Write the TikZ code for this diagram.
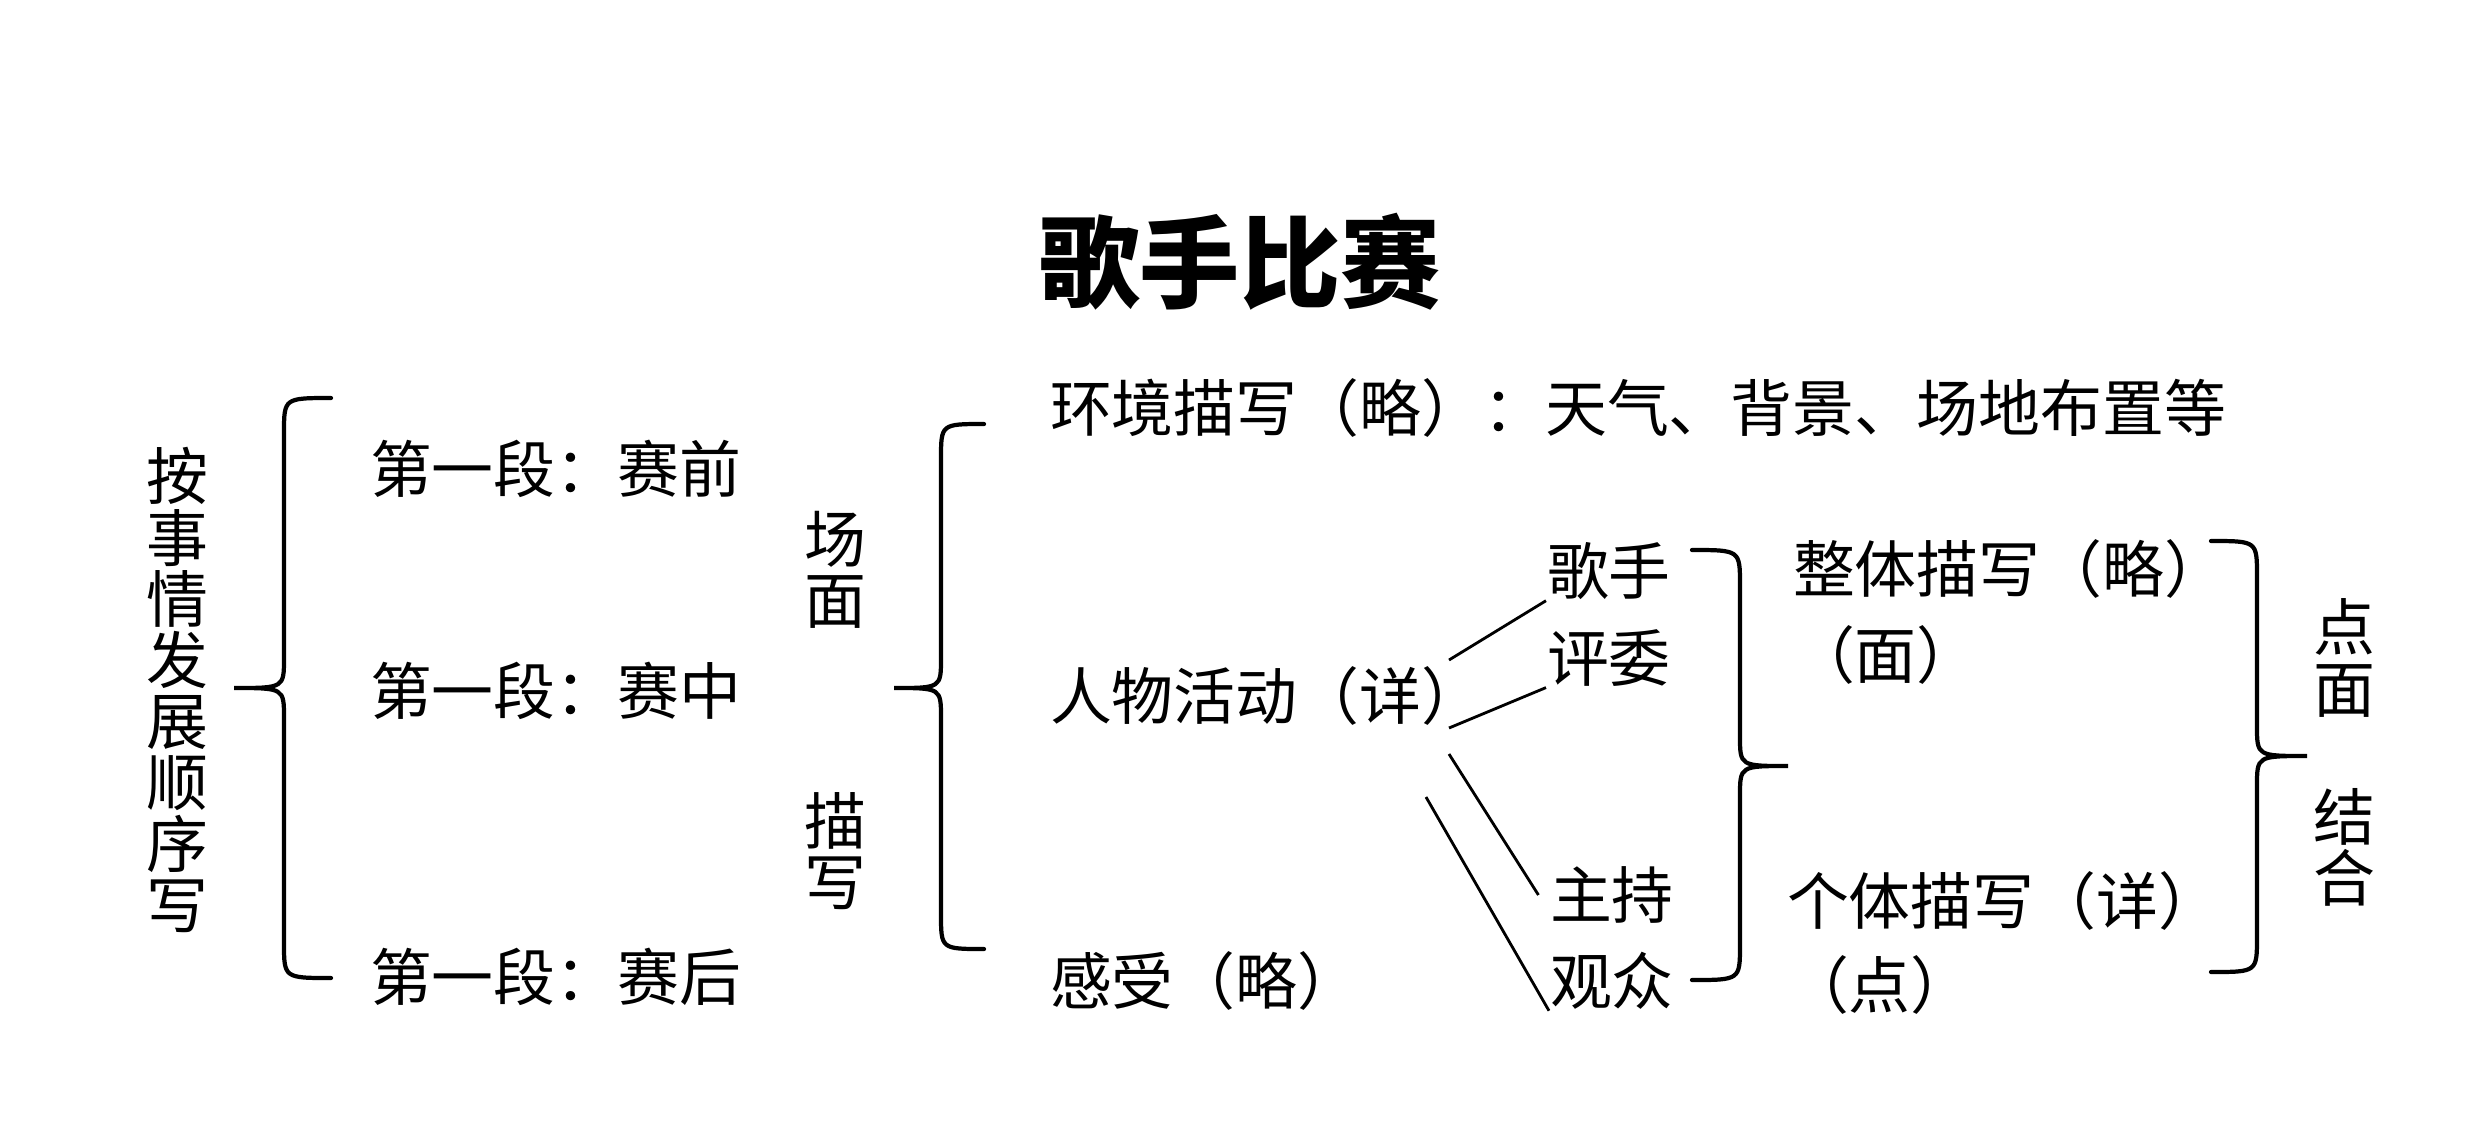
\documentclass[tikz,border=0pt]{standalone}
\usepackage{fontspec}
\setmainfont{Noto Sans CJK SC}
\usetikzlibrary{positioning}

\begin{document}
\begin{tikzpicture}[x=0.01cm, y=-0.01cm, semithick,
    txt/.style={anchor=west, inner sep=0pt, font=\fontsize{17.6pt}{17.4pt}\selectfont},
    vtxt/.style={align=center, inner sep=0pt, font=\fontsize{17.6pt}{17.4pt}\selectfont},
    heading/.style={inner sep=0pt, font=\fontsize{28.5pt}{30pt}\selectfont\bfseries},
    curly/.style={line width=1.2pt, line cap=round},
    fan/.style={line width=0.8pt}]

    \useasboundingbox (0,0) rectangle (2480,1141);

    \node[heading] (title) at (1240,262) {歌手比赛};

    % left column
    \node[vtxt] (order) at (177,690) {按\\事\\情\\发\\展\\顺\\序\\写};
    \node[txt] (before) at (369,469) {第一段：赛前};
    \node[txt] (during) at (369,691) {第一段：赛中};
    \node[txt] (after) at (369,977) {第一段：赛后};
    \node[vtxt] (scene) at (835,570) {场\\面};
    \node[vtxt] (describe) at (835,851) {描\\写};

    % middle column
    \node[txt] (env) at (1049,408) {环境描写（略）：天气、背景、场地布置等};
    \node[txt] (people) at (1049,696) {人物活动（详）};
    \node[txt] (feel) at (1049,981) {感受（略）};

    \node[txt] (singer) at (1546,571) {歌手};
    \node[txt] (judge) at ([yshift=-0.87cm]singer.west) {评委};
    \node[txt] (host) at (1549,895) {主持};
    \node[txt] (audience) at ([yshift=-0.86cm]host.west) {观众};

    % right column
    \node[txt] (whole) at (1792,569) {整体描写（略）};
    \node[txt] (face) at ([yshift=-0.86cm]whole.west) {（面）};
    \node[txt] (single) at (1786,901) {个体描写（详）};
    \node[txt] (point) at ([yshift=-0.84cm]single.west) {（点）};
    \node[vtxt] (pointface) at (2344,658) {点\\面};
    \node[vtxt] (combine) at (2344,847) {结\\合};

    % braces
    \draw[curly] (331,398) .. controls (284,398) .. (284,433) -- (284,658)
        .. controls (284,688) .. (234,688) .. controls (284,688) .. (284,718)
        -- (284,943) .. controls (284,978) .. (331,978);
    \draw[curly] (984,424) .. controls (941,424) .. (941,459) -- (941,658)
        .. controls (941,688) .. (894,688) .. controls (941,688) .. (941,718)
        -- (941,914) .. controls (941,949) .. (984,949);
    \draw[curly] (1692,550) .. controls (1740,550) .. (1740,585) -- (1740,736)
        .. controls (1740,766) .. (1788,766) .. controls (1740,766) .. (1740,796)
        -- (1740,945) .. controls (1740,980) .. (1692,980);
    \draw[curly] (2211,541) .. controls (2257,541) .. (2257,576) -- (2257,726)
        .. controls (2257,756) .. (2307,756) .. controls (2257,756) .. (2257,786)
        -- (2257,937) .. controls (2257,972) .. (2211,972);

    % fan from people
    \coordinate (f1) at (1449,660);
    \coordinate (f2) at (1449,728);
    \coordinate (f3) at (1449,754);
    \coordinate (f4) at (1426,797);
    \draw[fan] (f1) -- (singer.south west);
    \draw[fan] (f2) -- (judge.south west);
    \draw[fan] (f3) -- ([xshift=-3pt]host.west);
    \draw[fan] (f4) -- (audience.south west);
\end{tikzpicture}
\end{document}
